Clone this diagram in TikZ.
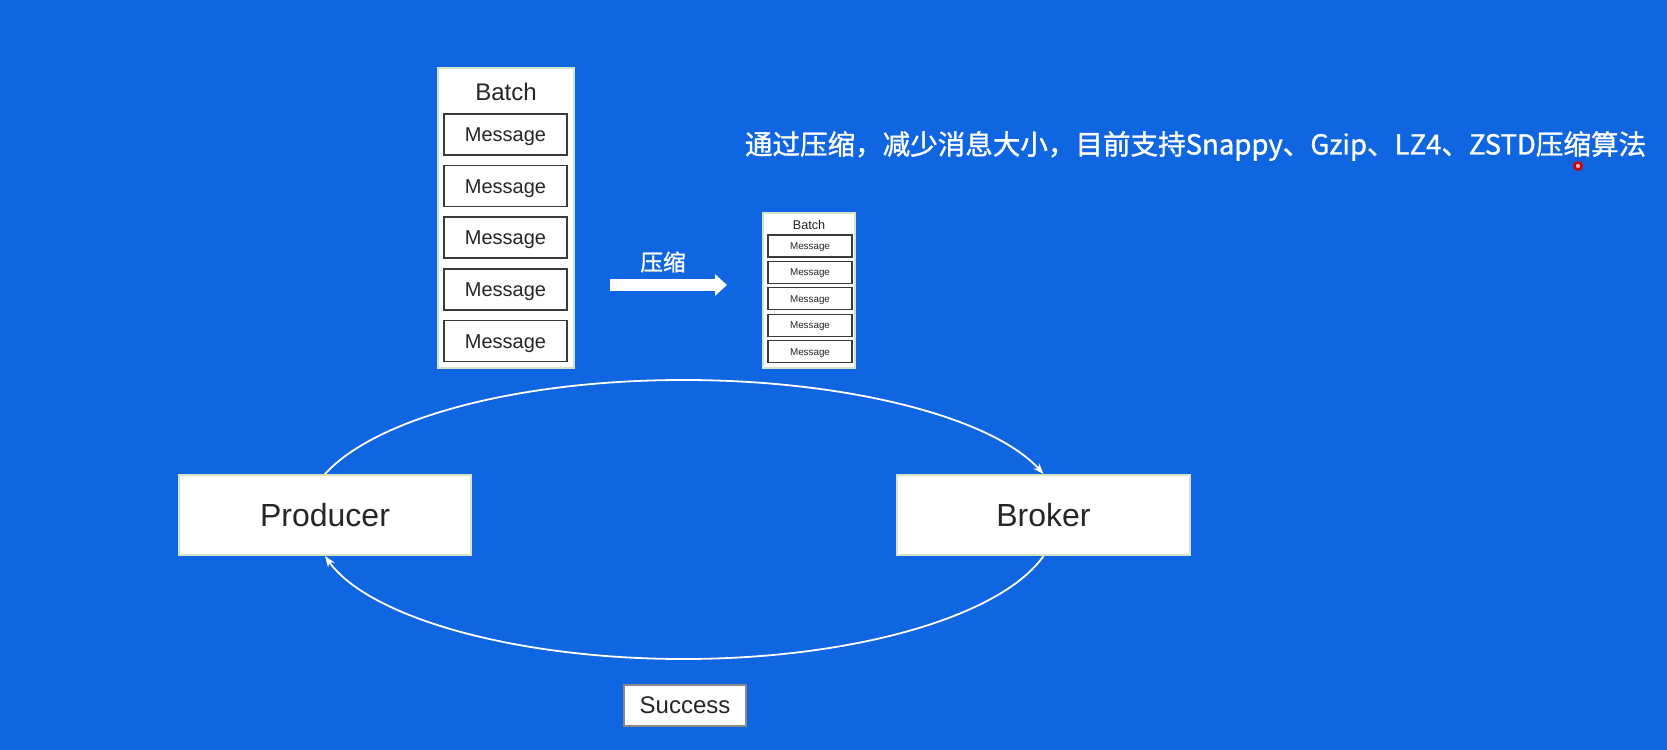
\documentclass[tikz,border=0pt]{standalone}
\usepackage{fontspec}
\usepackage{graphicx}
\setmainfont{Liberation Sans}
\newfontfamily\cjk{Noto Sans CJK SC}[FakeBold=1.2]
\usetikzlibrary{arrows.meta}
\definecolor{bg}{HTML}{1065E0}
\definecolor{edgegreen}{HTML}{D3E5C6}
\definecolor{ink}{HTML}{262626}
\definecolor{msgedge}{HTML}{3A3A3A}
\newcommand\pxu{0.6pt}
\tikzset{
  panel/.style={draw=edgegreen, line width=2*\pxu, fill=white, inner sep=0pt},
  bigmsg/.style={draw=msgedge, line width=1.6*\pxu, fill=white, text=ink,
    minimum width=123*\pxu, minimum height=41*\pxu, inner sep=0pt,
    text height=8.6pt, text depth=0pt, font=\fontsize{12pt}{13pt}\selectfont},
  smallmsg/.style={draw=msgedge, line width=1.4*\pxu, fill=white, text=ink,
    minimum width=84*\pxu, minimum height=22*\pxu, inner sep=0pt,
    text height=4.2pt, text depth=0pt, font=\fontsize{5.9pt}{6pt}\selectfont},
  actor/.style={panel, text=ink, minimum width=292*\pxu, minimum height=80*\pxu,
    font=\fontsize{19.2pt}{20pt}\selectfont},
  flow/.style={draw=white, line width=1.8*\pxu, -{Stealth[length=11*\pxu, width=8*\pxu]}},
}
\begin{document}
\begin{tikzpicture}[x=0.6pt, y=-0.6pt]
\fill[bg] (0,0) rectangle (1667,750);
\useasboundingbox (0,0) rectangle (1667,750);

% big batch
\node[panel, minimum width=136*\pxu, minimum height=300*\pxu] (bigbatch) at (506,218) {};
\node[text=ink, font=\fontsize{14.4pt}{15pt}\selectfont] (bigtitle) at (506,92) {Batch};
\foreach \i in {0,...,4} {
  \node[bigmsg] (m\i) at (505.5,{134.5+51.6*\i}) {Message};
}

% compress arrow
\coordinate (ca) at (610,285);
\coordinate (cb) at (727,285);
\draw[white, line width=12*\pxu, -{Triangle[length=12*\pxu, width=21*\pxu]}] (ca) -- (cb);
\node[text=white, font=\cjk\fontsize{13.6pt}{14pt}\selectfont] (zl) at (663,262) {压缩};

% small batch
\node[panel, minimum width=92*\pxu, minimum height=155*\pxu] (smallbatch) at (809,290.5) {};
\node[text=ink, font=\fontsize{7.6pt}{8pt}\selectfont] (smalltitle) at (809,225) {Batch};
\foreach \i in {0,...,4} {
  \node[smallmsg] (s\i) at (810,{246+26.4*\i}) {Message};
}

% description
\node[text=white, inner sep=0pt] (desc) at (1195.5,146)
  {\resizebox{540.6pt}{!}{\cjk 通过压缩，减少消息大小，目前支持Snappy、Gzip、LZ4、ZSTD压缩算法}};
\fill[red!80!black] (1578,166) circle[radius=5];
\fill[red!35!white] (1578,166) circle[radius=2.2];

% producer / broker
\node[actor] (P) at (325,515) {Producer};
\node[actor, minimum width=293*\pxu] (B) at (1043.5,515) {Broker};
\coordinate (T) at (683.5,380);
\coordinate (Bo) at (683.5,659);
\draw[flow] (P.north) .. controls +(52,-57) and +(-163,0) .. (T)
  .. controls +(163,0) and +(-52,-57) .. (B.north);
\draw[flow] (B.south) .. controls +(-43,61) and +(169,0) .. (Bo)
  .. controls +(-169,0) and +(43,61) .. (P.south);

% success
\node[draw=msgedge!60, line width=1.4*\pxu, fill=white, text=ink, minimum width=122*\pxu,
  minimum height=41*\pxu, inner sep=0pt, font=\fontsize{14.4pt}{15pt}\selectfont] (succ) at (685,705.5) {Success};
\end{tikzpicture}
\end{document}
